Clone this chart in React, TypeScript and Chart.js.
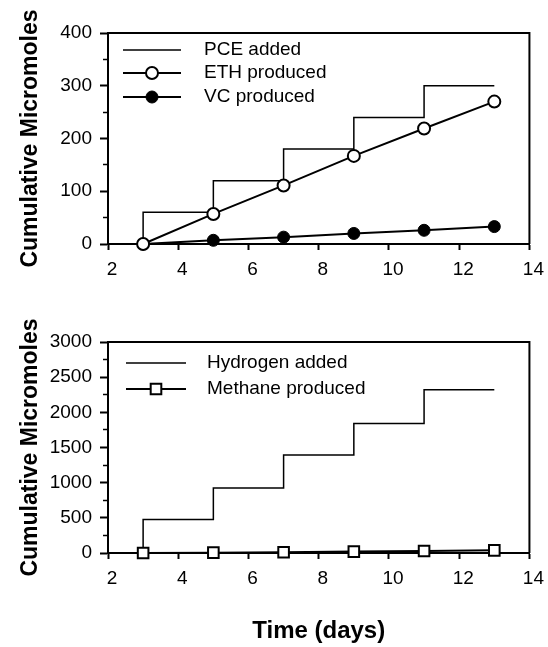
import React, { useEffect, useRef } from 'react';
import { Chart, registerables } from 'chart.js';

Chart.register(...registerables);

// ---- data ----
const sampleDays = [3, 5, 7, 9, 11, 13];
const additionDays = [3, 3, 5, 7, 9, 11, 13];
const pceAdded = [0, 60, 120, 180, 240, 300, 300];
const ethProduced = [0, 57, 111, 167, 219, 270];
const vcProduced = [0, 7, 13, 20, 26, 33];
const hydrogenAdded = [0, 475, 925, 1395, 1840, 2320, 2320];
const methaneProduced = [0, 5, 10, 20, 28, 38];

const dayAxis = { min: 2, max: 14, step: 2 };
const topYAxis = { min: 0, max: 400, major: 100, minor: 50 };
const bottomYAxis = { min: 0, max: 3000, major: 500, minor: 250 };

const yTitle = 'Cumulative Micromoles';
const xTitle = 'Time (days)';

const FONT = "'Liberation Sans', Arial, Helvetica, sans-serif";

const pts = (xs: number[], ys: number[]) => xs.map((x, i) => ({ x, y: ys[i] }));

const framePlugin = {
  id: 'frame',
  beforeDatasetsDraw(chart: any) {
    const { ctx, chartArea: a } = chart;
    ctx.save();
    ctx.strokeStyle = '#000';
    ctx.lineWidth = 2;
    ctx.beginPath();
    ctx.moveTo(a.left - 1, a.top);
    ctx.lineTo(a.right, a.top);
    ctx.lineTo(a.right, a.bottom);
    ctx.stroke();
    ctx.restore();
  },
};

const insideLegend = {
  id: 'insideLegend',
  afterDraw(chart: any, _args: any, opts: any) {
    const { ctx, chartArea: a } = chart;
    ctx.save();
    chart.data.datasets.forEach((ds: any, i: number) => {
      const y = a.top + opts.rows[i];
      const x0 = a.left + opts.lineStart;
      const x1 = a.left + opts.lineEnd;
      ctx.strokeStyle = '#000';
      ctx.lineWidth = ds.borderWidth;
      ctx.setLineDash([]);
      ctx.beginPath();
      ctx.moveTo(x0, y);
      ctx.lineTo(x1, y);
      ctx.stroke();
      if (ds.pointRadius > 0) {
        const cx = (x0 + x1) / 2;
        const r = ds.pointRadius;
        ctx.fillStyle = ds.pointBackgroundColor;
        ctx.lineWidth = ds.pointBorderWidth;
        ctx.beginPath();
        if (ds.pointStyle === 'rect') {
          const h = r * Math.SQRT1_2;
          ctx.rect(cx - h, y - h, 2 * h, 2 * h);
        } else {
          ctx.arc(cx, y, r, 0, Math.PI * 2);
        }
        ctx.fill();
        ctx.stroke();
      }
      ctx.fillStyle = '#000';
      ctx.font = `19px ${FONT}`;
      ctx.textAlign = 'left';
      ctx.textBaseline = 'middle';
      ctx.fillText(ds.label, a.left + opts.textX, y);
    });
    ctx.restore();
  },
};

function xScale(height: number, withTitle: boolean) {
  return {
    type: 'linear',
    min: dayAxis.min,
    max: dayAxis.max,
    ticks: {
      stepSize: dayAxis.step,
      color: '#000',
      font: { family: FONT, size: 19 },
      padding: 8,
      labelOffset: 4,
      maxRotation: 0,
      autoSkip: false,
    },
    grid: {
      drawOnChartArea: false,
      drawTicks: true,
      tickLength: 6,
      tickWidth: 2,
      tickColor: '#000',
    },
    border: { color: '#000', width: 2 },
    title: {
      display: withTitle,
      text: xTitle,
      color: '#000',
      font: { family: FONT, size: 24, weight: 'bold' },
      padding: { top: 0, bottom: 1 },
    },
    afterFit: (s: any) => {
      s.height = height;
    },
  };
}

function yScale(axis: { min: number; max: number; major: number; minor: number }) {
  const isMinor = (v: number) => Math.round(v) % axis.major !== 0;
  return {
    type: 'linear',
    min: axis.min,
    max: axis.max,
    ticks: {
      stepSize: axis.minor,
      autoSkip: false,
      color: '#000',
      font: { family: FONT, size: 19 },
      padding: 8,
      callback: (v: number) => (isMinor(v) ? '' : String(v)),
    },
    grid: {
      drawOnChartArea: false,
      drawTicks: true,
      tickLength: 8,
      tickColor: '#000',
      tickWidth: (c: any) => (c.tick && isMinor(c.tick.value) ? 1.5 : 2),
      tickBorderDash: (c: any) => (c.tick && isMinor(c.tick.value) ? [4, 100] : []),
      tickBorderDashOffset: (c: any) => (c.tick && isMinor(c.tick.value) ? 101 : 0),
    },
    border: { color: '#000', width: 2 },
    title: {
      display: true,
      text: yTitle,
      color: '#000',
      font: { family: FONT, size: 23, weight: 'bold' },
      padding: { top: 17, bottom: 0 },
    },
    afterFit: (s: any) => {
      s.width = 108;
    },
  };
}

function topConfig(): any {
  return {
    type: 'line',
    data: {
      datasets: [
        {
          label: 'PCE added',
          data: pts(additionDays, pceAdded),
          stepped: 'before',
          borderColor: '#000',
          borderWidth: 1.5,
          pointRadius: 0,
          fill: false,
          order: 2,
          clip: false,
        },
        {
          label: 'ETH produced',
          data: pts(sampleDays, ethProduced),
          borderColor: '#000',
          borderWidth: 2,
          pointStyle: 'circle',
          pointRadius: 6,
          pointBackgroundColor: '#fff',
          pointBorderColor: '#000',
          pointBorderWidth: 2,
          fill: false,
          order: 0,
          clip: false,
        },
        {
          label: 'VC produced',
          data: pts(sampleDays, vcProduced),
          borderColor: '#000',
          borderWidth: 2,
          pointStyle: 'circle',
          pointRadius: 6,
          pointBackgroundColor: '#000',
          pointBorderColor: '#000',
          pointBorderWidth: 1,
          fill: false,
          order: 1,
          clip: false,
        },
      ],
    },
    options: {
      animation: false,
      responsive: false,
      maintainAspectRatio: false,
      devicePixelRatio: 1,
      events: [],
      layout: { padding: { top: 33, right: 17, left: 0, bottom: 0 } },
      scales: { x: xScale(56, false), y: yScale(topYAxis) },
      plugins: {
        legend: { display: false },
        tooltip: { enabled: false },
        insideLegend: { rows: [17, 40, 64], lineStart: 15, lineEnd: 73, textX: 96 },
      },
    },
    plugins: [framePlugin, insideLegend],
  };
}

function bottomConfig(): any {
  return {
    type: 'line',
    data: {
      datasets: [
        {
          label: 'Hydrogen added',
          data: pts(additionDays, hydrogenAdded),
          stepped: 'before',
          borderColor: '#000',
          borderWidth: 1.5,
          pointRadius: 0,
          fill: false,
          order: 1,
          clip: false,
        },
        {
          label: 'Methane produced',
          data: pts(sampleDays, methaneProduced),
          borderColor: '#000',
          borderWidth: 2,
          pointStyle: 'rect',
          pointRadius: 7.5,
          pointBackgroundColor: '#fff',
          pointBorderColor: '#000',
          pointBorderWidth: 2,
          fill: false,
          order: 0,
          clip: false,
        },
      ],
    },
    options: {
      animation: false,
      responsive: false,
      maintainAspectRatio: false,
      devicePixelRatio: 1,
      events: [],
      layout: { padding: { top: 42, right: 15, left: 0, bottom: 0 } },
      scales: { x: xScale(94, true), y: yScale(bottomYAxis) },
      plugins: {
        legend: { display: false },
        tooltip: { enabled: false },
        insideLegend: { rows: [21, 47], lineStart: 18, lineEnd: 78, textX: 99 },
      },
    },
    plugins: [framePlugin, insideLegend],
  };
}

export default function App() {
  const topRef = useRef<HTMLCanvasElement>(null);
  const bottomRef = useRef<HTMLCanvasElement>(null);

  useEffect(() => {
    const c1 = new Chart(topRef.current as HTMLCanvasElement, topConfig());
    const c2 = new Chart(bottomRef.current as HTMLCanvasElement, bottomConfig());
    return () => {
      c1.destroy();
      c2.destroy();
    };
  }, []);

  return (
    <div style={{ position: 'absolute', left: 0, top: 0, width: 548, height: 647, background: '#fff' }}>
      <canvas
        ref={topRef}
        width={548}
        height={300}
        style={{ position: 'absolute', left: 0, top: 0, width: 548, height: 300 }}
      />
      <canvas
        ref={bottomRef}
        width={548}
        height={347}
        style={{ position: 'absolute', left: 0, top: 300, width: 548, height: 347 }}
      />
    </div>
  );
}
